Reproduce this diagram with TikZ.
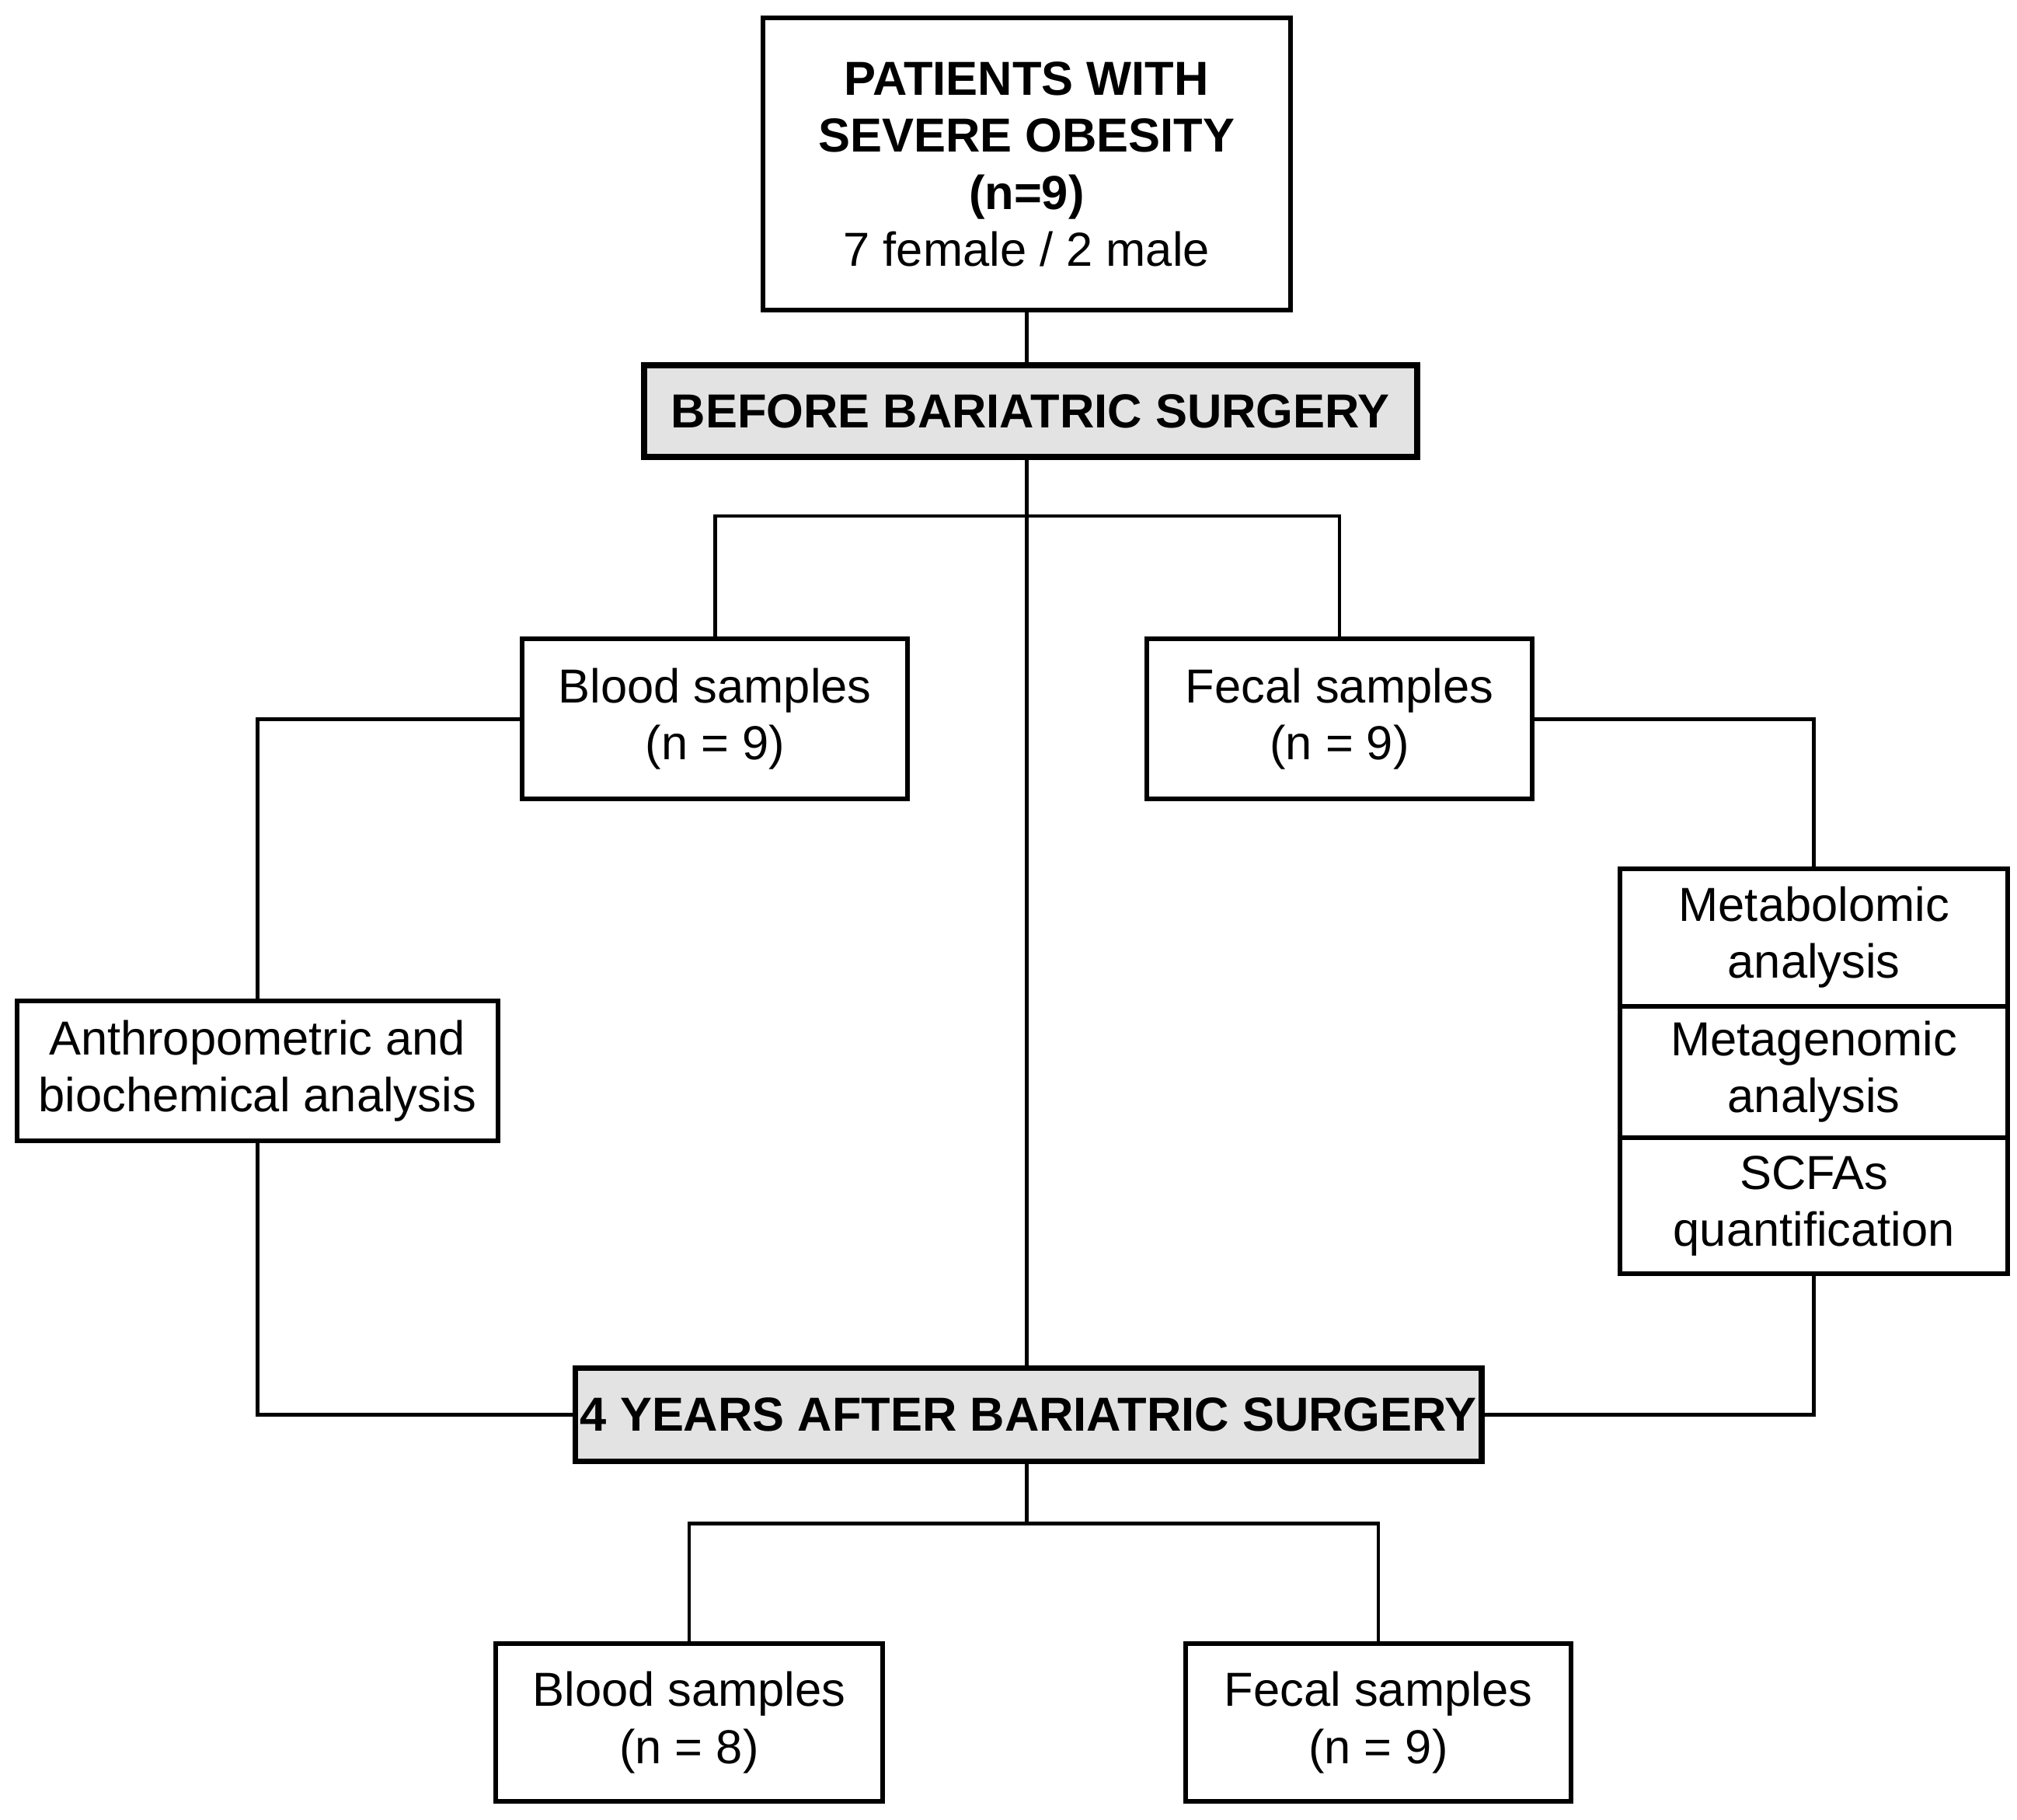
\documentclass[tikz,border=0pt]{standalone}
\usepackage{fontspec}
\setmainfont{Liberation Sans}
\begin{document}
\begin{tikzpicture}[x=0.01cm,y=-0.01cm,
 box/.style={draw,line width=1pt,inner sep=0pt,align=center,font=\fontsize{10.5}{12.5}\selectfont},
 gbox/.style={box,fill=gray!22,line width=1.3pt,font=\fontsize{10.5}{12.5}\selectfont\bfseries},
 ln/.style={line width=0.8pt}]
\useasboundingbox (0,0) rectangle (1560,1407);
\node[box,minimum width=408\pgflinewidth*0+408*0.01cm,minimum height=226*0.01cm] (top) at (794,127)
 {\textbf{PATIENTS WITH}\\\textbf{SEVERE OBESITY}\\\textbf{(n=9)}\\7 female / 2 male};
\node[gbox,minimum width=598*0.01cm,minimum height=71*0.01cm] (bef) at (797,318) {BEFORE BARIATRIC SURGERY};
\node[box,minimum width=298*0.01cm,minimum height=124*0.01cm] (b1) at (553,556) {Blood samples\\(n = 9)};
\node[box,minimum width=298*0.01cm,minimum height=124*0.01cm] (f1) at (1036,556) {Fecal samples\\(n = 9)};
\node[box,minimum width=372*0.01cm,minimum height=108*0.01cm] (an) at (199,828) {Anthropometric and\\biochemical analysis};
\node[box,minimum width=300*0.01cm,minimum height=106*0.01cm] (m1) at (1403,725) {Metabolomic\\analysis};
\node[box,minimum width=300*0.01cm,minimum height=102*0.01cm] (m2) at (1403,829) {Metagenomic\\analysis};
\node[box,minimum width=300*0.01cm,minimum height=105*0.01cm] (m3) at (1403,932.5) {SCFAs\\quantification};
\node[gbox,minimum width=701*0.01cm,minimum height=72*0.01cm] (aft) at (795.5,1094) {4 YEARS AFTER BARIATRIC SURGERY};
\node[box,minimum width=299*0.01cm,minimum height=122*0.01cm] (b2) at (533,1332) {Blood samples\\(n = 8)};
\node[box,minimum width=298*0.01cm,minimum height=122*0.01cm] (f2) at (1066,1332) {Fecal samples\\(n = 9)};
\draw[ln] (top.south) -- (top.south|-bef.north);
\draw[ln] (bef.south-|top.south) -- (aft.north-|top.south);
\draw[ln] (b1.north) -- (553,399) -- (1036,399) -- (f1.north);
\draw[ln] (b1.west) -- (an.north|-b1.west) -- (an.north);
\draw[ln] (an.south) -- (an.south|-aft.west) -- (aft.west);
\draw[ln] (f1.east) -- (m1.north|-f1.east) -- (m1.north);
\draw[ln] (m3.south) -- (m3.south|-aft.east) -- (aft.east);
\draw[ln] (aft.south-|top.south) -- (794,1178);
\draw[ln] (b2.north) -- (533,1178) -- (1066,1178) -- (f2.north);
\end{tikzpicture}
\end{document}
